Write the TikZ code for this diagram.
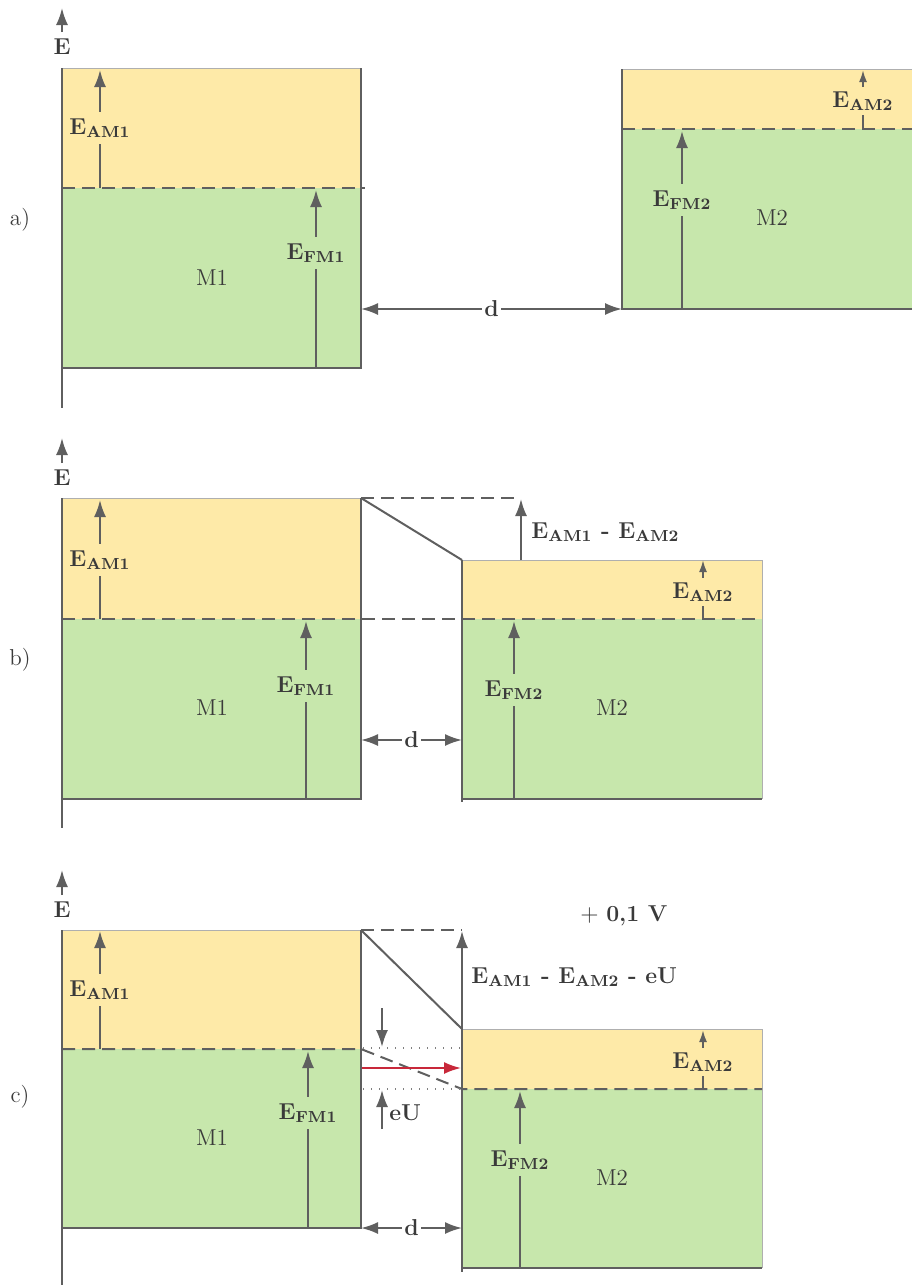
\documentclass[tikz,border=0pt]{standalone}
\usetikzlibrary{arrows.meta}
\definecolor{yel}{HTML}{FEEAA8}
\definecolor{grn}{HTML}{C7E7AC}
\definecolor{lnc}{HTML}{5F5F5F}
\definecolor{txc}{HTML}{3A3A3A}
\definecolor{rdc}{HTML}{C8283A}
\newcommand\EL[1]{\textbf{E}$_{\mathbf{#1}}$}
\begin{document}
\begin{tikzpicture}[x=0.5pt,y=-0.5pt,
  font=\fontsize{11.5}{13}\selectfont,
  every node/.style={text=txc},
  edge/.style={draw=lnc,line width=1pt},
  thinb/.style={draw=lnc!50,line width=0.4pt},
  arr/.style={draw=lnc,line width=1pt,-{Latex[length=8.5pt,width=6pt]}},
  darr/.style={draw=lnc,line width=1pt,{Latex[length=8.5pt,width=6pt]}-{Latex[length=8.5pt,width=6pt]}},
  sarr/.style={draw=lnc,line width=1pt,-{Latex[length=6pt,width=4pt]}},
  rarr/.style={draw=rdc,line width=1pt,-{Latex[length=8.5pt,width=6pt]}},
  dsh/.style={draw=lnc,line width=1pt,dash pattern=on 6.5pt off 3.5pt},
  dots/.style={draw=lnc!80,line width=0.6pt,dash pattern=on 0.6pt off 3.4pt},
  ylab/.style={fill=yel,inner xsep=1pt,inner ysep=3pt},
  glab/.style={fill=grn,inner xsep=1pt,inner ysep=3pt},
  wlab/.style={fill=white,inner sep=1pt}
]
\useasboundingbox (0,0) rectangle (912,1285);

% ================= a =================
\fill[yel] (62,68) rectangle (361,188);
\fill[grn] (62,188) rectangle (361,368);
\fill[yel] (622,69) rectangle (912,129);
\fill[grn] (622,129) rectangle (912,309);
\draw[thinb] (62,68) -- (361,68);
\draw[thinb] (622,69) -- (912,69);
\draw[dsh] (62,188) -- (365,188);
\draw[dsh] (622,129) -- (912,129);
\draw[arr] (100,188) -- (100,70);
\node[ylab] (aEAM1) at (100,128) {\EL{AM1}};
\draw[arr] (316,368) -- (316,190);
\node[glab] (aEFM1) at (316,253) {\EL{FM1}};
\draw[arr] (682,309) -- (682,131);
\node[glab] (aEFM2) at (682,200) {\EL{FM2}};
\draw[sarr] (863,129) -- (863,70);
\node[ylab,inner ysep=2pt] (aEAM2) at (863,101) {\EL{AM2}};
\node (aM1) at (212,278) {M1};
\node (aM2) at (772,218) {M2};
\draw[edge] (361,68) -- (361,368) -- (62,368);
\draw[edge] (622,69) -- (622,309) -- (912,309);
\node (aE) at (62,47) {\textbf{E}};
\draw[arr] (aE.north) -- (62,8);
\draw[edge] (62,68) -- (62,408);
\coordinate (adl) at (361,309);
\coordinate (adr) at (622,309);
\draw[darr] (adl) -- node[wlab] (ad) {\textbf{d}} (adr);
\node (alab) at (20,220) {a)};

% ================= b =================
\fill[yel] (62,498) rectangle (361,619);
\fill[grn] (62,619) rectangle (361,799);
\fill[yel] (462,560) rectangle (762,619);
\fill[grn] (462,619) rectangle (762,799);
\draw[thinb] (62,498) -- (361,498);
\draw[thinb] (462,560) -- (762,560) -- (762,799);
\draw[dsh] (62,619) -- (762,619);
\draw[dsh] (361,498) -- (521,498);
\draw[edge] (361,498) -- (462,560);
\draw[arr] (521,560) -- (521,499);
\node[anchor=west,inner sep=1pt] (bdiff) at (529,532) {\EL{AM1}\textbf{ - E}$_{\mathbf{AM2}}$};
\draw[arr] (100,619) -- (100,500);
\node[ylab] (bEAM1) at (100,560) {\EL{AM1}};
\draw[arr] (306,799) -- (306,621);
\node[glab] (bEFM1) at (306,686) {\EL{FM1}};
\draw[arr] (514,799) -- (514,621);
\node[glab] (bEFM2) at (514,690) {\EL{FM2}};
\draw[sarr] (703,619) -- (703,560);
\node[ylab,inner ysep=2pt] (bEAM2) at (703,592) {\EL{AM2}};
\node (bM1) at (212,708) {M1};
\node (bM2) at (612,708) {M2};
\draw[edge] (361,498) -- (361,799) -- (62,799);
\draw[edge] (462,560) -- (462,802);
\draw[edge] (462,799) -- (762,799);
\node (bE) at (62,478) {\textbf{E}};
\draw[arr] (bE.north) -- (62,438);
\draw[edge] (62,498) -- (62,828);
\coordinate (bdl) at (361,740);
\coordinate (bdr) at (462,740);
\draw[darr] (bdl) -- node[wlab] (bd) {\textbf{d}} (bdr);
\node (blab) at (20,660) {b)};

% ================= c =================
\fill[yel] (62,930) rectangle (361,1049);
\fill[grn] (62,1049) rectangle (361,1228);
\fill[yel] (462,1029) rectangle (762,1089);
\fill[grn] (462,1089) rectangle (762,1268);
\draw[thinb] (62,930) -- (361,930);
\draw[thinb] (462,1029) -- (762,1029) -- (762,1268);
\draw[dsh] (62,1049) -- (361,1049) -- (462,1089) -- (762,1089);
\draw[dots] (363,1048) -- (460,1048);
\draw[dots] (363,1089) -- (460,1089);
\draw[dsh] (361,930) -- (462,930);
\draw[edge] (361,930) -- (462,1029);
\draw[arr] (462,1029) -- (462,931);
\node[anchor=west,inner sep=1pt] (cdiff) at (469,977) {\EL{AM1}\textbf{ - E}$_{\mathbf{AM2}}$\textbf{ - eU}};
\node (cV) at (624,916) {$+$ \textbf{0,1 V}};
\draw[rarr] (362,1068) -- (461,1068);
\draw[arr] (382,1008) -- (382,1047);
\draw[arr] (382,1129) -- (382,1090);
\node[anchor=west,inner sep=1pt] (ceU) at (387,1113) {\textbf{eU}};
\draw[arr] (100,1049) -- (100,931);
\node[ylab] (cEAM1) at (100,990) {\EL{AM1}};
\draw[arr] (308,1228) -- (308,1051);
\node[glab] (cEFM1) at (308,1113) {\EL{FM1}};
\draw[arr] (520,1268) -- (520,1091);
\node[glab] (cEFM2) at (520,1160) {\EL{FM2}};
\draw[sarr] (703,1089) -- (703,1030);
\node[ylab,inner ysep=2pt] (cEAM2) at (703,1062) {\EL{AM2}};
\node (cM1) at (212,1138) {M1};
\node (cM2) at (612,1178) {M2};
\draw[edge] (361,930) -- (361,1228) -- (62,1228);
\draw[edge] (462,1029) -- (462,1272);
\draw[edge] (462,1268) -- (762,1268);
\node (cE) at (62,910) {\textbf{E}};
\draw[arr] (cE.north) -- (62,870);
\draw[edge] (62,930) -- (62,1285);
\coordinate (cdl) at (361,1228);
\coordinate (cdr) at (462,1228);
\draw[darr] (cdl) -- node[wlab] (cd) {\textbf{d}} (cdr);
\node (clab) at (20,1097) {c)};
\end{tikzpicture}
\end{document}
